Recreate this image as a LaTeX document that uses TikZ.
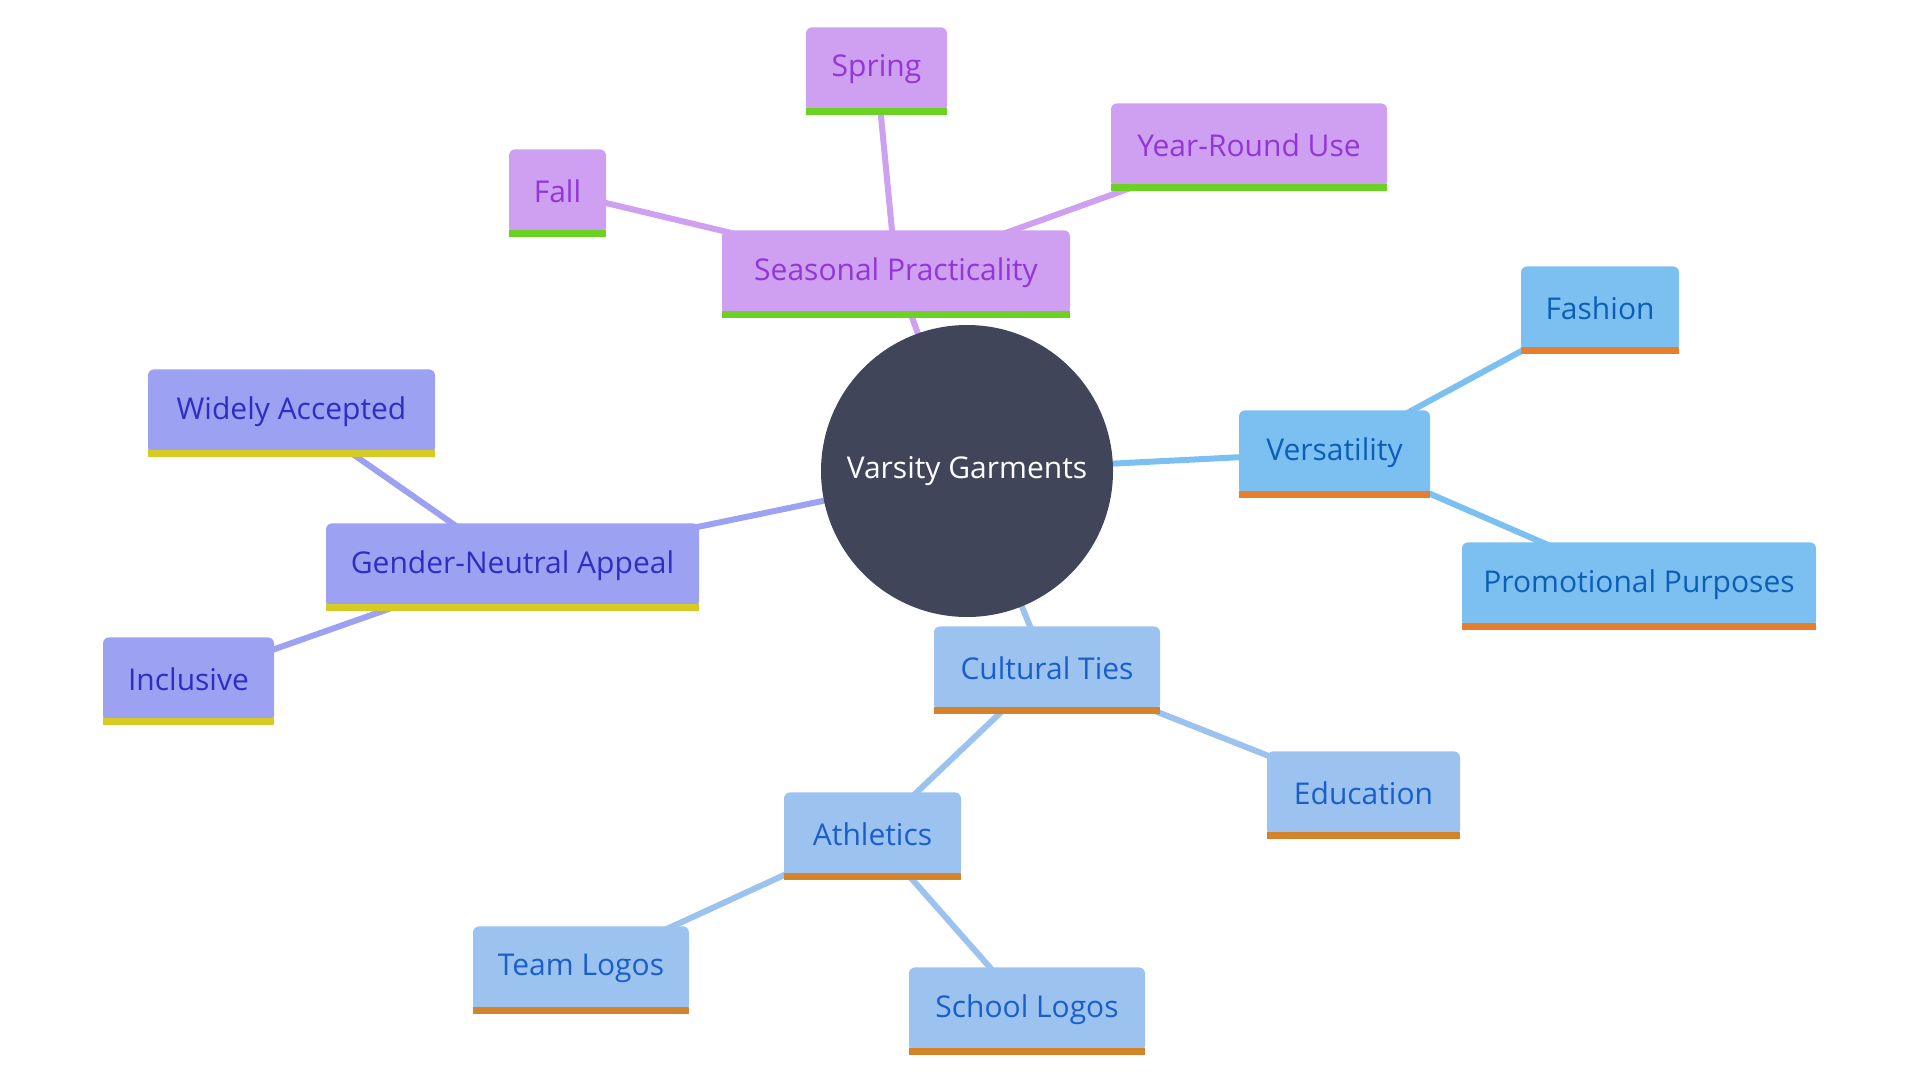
\documentclass[tikz,border=0pt]{standalone}
\usepackage{fontspec}
\setmainfont{Open Sans}
\usetikzlibrary{backgrounds}
\definecolor{spfill}{HTML}{CF9FF2}
\definecolor{sptext}{HTML}{9236D6}
\definecolor{spbarc}{HTML}{6BD224}
\definecolor{gnfill}{HTML}{9CA1F2}
\definecolor{gntext}{HTML}{2E2EC2}
\definecolor{gnbarc}{HTML}{D6CB22}
\definecolor{vsfill}{HTML}{7CC0F2}
\definecolor{vstext}{HTML}{0D5FB5}
\definecolor{vsbarc}{HTML}{E67E2E}
\definecolor{ctfill}{HTML}{9CC3F0}
\definecolor{cttext}{HTML}{1A5FC8}
\definecolor{ctbarc}{HTML}{D4832B}
\definecolor{rootfill}{HTML}{414559}
\tikzset{
  basebox/.style={rectangle, rounded corners=3pt, minimum height=42pt, inner sep=0pt, font=\fontsize{15}{18}\selectfont},
  sp/.style={basebox, fill=spfill, text=sptext},
  gn/.style={basebox, fill=gnfill, text=gntext},
  vs/.style={basebox, fill=vsfill, text=vstext},
  ct/.style={basebox, fill=ctfill, text=cttext},
  spbar/.style={fill=spbarc},
  gnbar/.style={fill=gnbarc},
  vsbar/.style={fill=vsbarc},
  ctbar/.style={fill=ctbarc},
  spline/.style={draw=spfill, line width=3pt},
  gnline/.style={draw=gnfill, line width=3pt},
  vsline/.style={draw=vsfill, line width=3pt},
  ctline/.style={draw=ctfill, line width=3pt},
  rootnode/.style={circle, fill=rootfill, text=white, minimum size=146pt, inner sep=0pt, font=\fontsize{15}{18}\selectfont}
}
\newcommand{\mmnode}[6]{%
  \node[#2, minimum width=#5*0.5pt, anchor=north] (#1) at (#3,#4) {#6};
  \fill[#2bar] ([yshift=2pt]#1.south west) rectangle ([yshift=-1.5pt]#1.south east);
}
\begin{document}
\begin{tikzpicture}[x=0.5pt,y=-0.5pt]
\useasboundingbox (0,0) rectangle (1920,1080);
\node[rootnode] (root) at (967,471) {Varsity Garments};
\mmnode{spring}{sp}{876.5}{27}{141}{Spring}
\mmnode{year}{sp}{1249}{103}{276}{Year-Round Use}
\mmnode{fall}{sp}{557.5}{149}{97}{Fall}
\mmnode{seasonal}{sp}{896}{230}{348}{Seasonal Practicality}
\mmnode{widely}{gn}{291.5}{369}{287}{Widely Accepted}
\mmnode{gender}{gn}{512.5}{523}{373}{Gender-Neutral Appeal}
\mmnode{inclusive}{gn}{188.5}{637}{171}{Inclusive}
\mmnode{versatility}{vs}{1334.5}{410}{191}{Versatility}
\mmnode{fashion}{vs}{1600}{266}{158}{Fashion}
\mmnode{promo}{vs}{1639}{542}{354}{Promotional Purposes}
\mmnode{cultural}{ct}{1047}{626}{226}{Cultural Ties}
\mmnode{education}{ct}{1363.5}{751}{193}{Education}
\mmnode{athletics}{ct}{872.5}{792}{177}{Athletics}
\mmnode{team}{ct}{581}{926}{216}{Team Logos}
\mmnode{school}{ct}{1027}{967}{236}{School Logos}
\begin{pgfonlayer}{background}
\draw[spline] (root.center) -- (seasonal.center);
\draw[spline] (seasonal.center) -- (fall.center);
\draw[spline] (seasonal.center) -- (spring.center);
\draw[spline] (seasonal.center) -- (year.center);
\draw[gnline] (root.center) -- (gender.center);
\draw[gnline] (gender.center) -- (widely.center);
\draw[gnline] (gender.center) -- (inclusive.center);
\draw[vsline] (root.center) -- (versatility.center);
\draw[vsline] (versatility.center) -- (fashion.center);
\draw[vsline] (versatility.center) -- (promo.center);
\draw[ctline] (root.center) -- (cultural.center);
\draw[ctline] (cultural.center) -- (athletics.center);
\draw[ctline] (cultural.center) -- (education.center);
\draw[ctline] (athletics.center) -- (team.center);
\draw[ctline] (athletics.center) -- (school.center);
\end{pgfonlayer}
\end{tikzpicture}
\end{document}
